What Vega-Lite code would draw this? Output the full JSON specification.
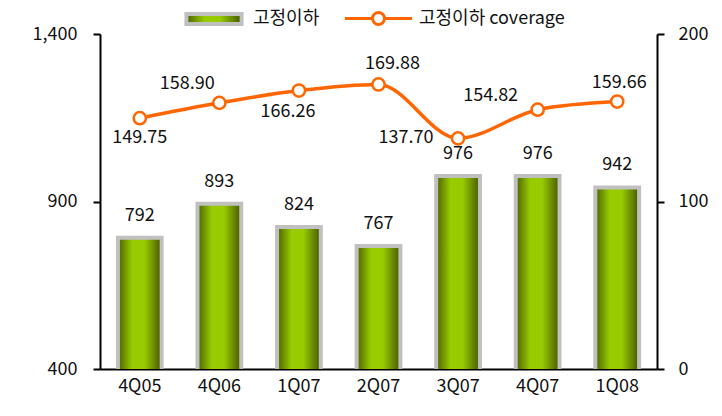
{
  "$schema": "https://vega.github.io/schema/vega-lite/v6.json",
  "autosize": {"type": "none"},
  "width": 557,
  "height": 335,
  "padding": {"left": 100, "top": 34, "right": 65, "bottom": 47},
  "background": "white",
  "config": {
    "view": {"stroke": null},
    "font": "Noto Sans CJK KR",
    "axis": {"grid": false, "domainColor": "#000", "domainWidth": 2, "tickColor": "#000", "tickWidth": 2, "labelFontSize": 18, "labelColor": "#111", "labelFont": "Noto Sans CJK KR", "title": null},
    "legend": {"labelFontSize": 18, "labelColor": "#111", "labelFont": "Noto Sans CJK KR"}
  },
  "data": {"values": [
    {"q": "4Q05", "npl": 792, "cov": 149.75},
    {"q": "4Q06", "npl": 893, "cov": 158.90},
    {"q": "1Q07", "npl": 824, "cov": 166.26},
    {"q": "2Q07", "npl": 767, "cov": 169.88},
    {"q": "3Q07", "npl": 976, "cov": 137.70},
    {"q": "4Q07", "npl": 976, "cov": 154.82},
    {"q": "1Q08", "npl": 942, "cov": 159.66}
  ]},
  "encoding": {
    "x": {"field": "q", "type": "nominal", "sort": null, "scale": {"paddingInner": 0.45, "paddingOuter": 0.225},
      "axis": {"labelAngle": 0, "bandPosition": 0, "tickSize": -8, "labelPadding": 25, "labelBaseline": "middle", "labelAlign": "center"}}
  },
  "layer": [
    {
      "layer": [
        {
          "mark": {"type": "bar", "strokeWidth": 4, "clip": true,
            "fill": {"gradient": "linear", "x1": 0, "y1": 0, "x2": 1, "y2": 0,
              "stops": [{"offset": 0, "color": "#4a6000"}, {"offset": 0.33, "color": "#99cc00"}, {"offset": 0.6, "color": "#99cc00"}, {"offset": 1, "color": "#445800"}]}},
          "encoding": {
            "y": {"field": "npl", "type": "quantitative", "scale": {"domain": [400, 1400], "zero": false},
              "axis": {"values": [400, 900, 1400], "format": ",d", "tickSize": 7, "labelPadding": 16}},
            "stroke": {"datum": "고정이하", "scale": {"range": ["#c0c0c0"]},
              "legend": {"title": null, "orient": "none", "legendX": 100, "legendY": -29,
                "symbolType": "M-2.3,-0.42H2.3V0.42H-2.3Z", "symbolSize": 576, "symbolStrokeWidth": 4,
                "labelOffset": 25, "padding": 0,
                "encode": {"symbols": {"update": {"fill": {"value": {"gradient": "linear", "x1": 0, "y1": 0, "x2": 1, "y2": 0, "stops": [{"offset": 0, "color": "#4a6000"}, {"offset": 0.5, "color": "#99cc00"}, {"offset": 1, "color": "#445800"}]}}, "opacity": {"value": 1}}}}}}
          }
        },
        {
          "mark": {"type": "text", "dy": -22, "fontSize": 18, "color": "#111", "baseline": "middle"},
          "encoding": {
            "y": {"field": "npl", "type": "quantitative"},
            "text": {"field": "npl", "type": "quantitative", "format": "d"}
          }
        }
      ]
    },
    {
      "layer": [
        {
          "mark": {"type": "line", "interpolate": "monotone", "strokeWidth": 3.5,
            "point": {"filled": false, "fill": "white", "stroke": "#ff6600", "strokeWidth": 2.5, "size": 150, "opacity": 1}},
          "encoding": {
            "y": {"field": "cov", "type": "quantitative", "scale": {"domain": [0, 200]},
              "axis": {"orient": "right", "values": [0, 100, 200], "tickSize": 7, "labelPadding": 14}},
            "stroke": {"datum": "고정이하 coverage", "scale": {"range": ["#ff6600"]},
              "legend": {"title": null, "orient": "none", "legendX": 265, "legendY": -29,
                "symbolType": "M-2.8,0H-0.5M0.5,0H2.8M0.5,0A0.5,0.5 0 1 1 -0.5,0A0.5,0.5 0 1 1 0.5,0",
                "symbolSize": 576, "symbolStrokeWidth": 3, "labelOffset": 27, "padding": 0,
                "encode": {"symbols": {"update": {"fill": {"value": "white"}, "opacity": {"value": 1}}}}}}
          }
        },
        {
          "transform": [{"filter": {"field": "q", "equal": "4Q05"}}],
          "mark": {"type": "text", "dy": 20, "dx": 0, "fontSize": 18, "color": "#111", "baseline": "middle"},
          "encoding": {"y": {"field": "cov", "type": "quantitative"}, "text": {"field": "cov", "type": "quantitative", "format": ".2f"}}
        },
        {
          "transform": [{"filter": {"field": "q", "equal": "1Q07"}}],
          "mark": {"type": "text", "dy": 21, "dx": -11, "fontSize": 18, "color": "#111", "baseline": "middle"},
          "encoding": {"y": {"field": "cov", "type": "quantitative"}, "text": {"field": "cov", "type": "quantitative", "format": ".2f"}}
        },
        {
          "transform": [{"filter": {"field": "q", "equal": "4Q06"}}],
          "mark": {"type": "text", "dy": -19, "dx": -32, "fontSize": 18, "color": "#111", "baseline": "middle"},
          "encoding": {"y": {"field": "cov", "type": "quantitative"}, "text": {"field": "cov", "type": "quantitative", "format": ".2f"}}
        },
        {
          "transform": [{"filter": {"field": "q", "equal": "2Q07"}}],
          "mark": {"type": "text", "dy": -20, "dx": 14, "fontSize": 18, "color": "#111", "baseline": "middle"},
          "encoding": {"y": {"field": "cov", "type": "quantitative"}, "text": {"field": "cov", "type": "quantitative", "format": ".2f"}}
        },
        {
          "transform": [{"filter": {"field": "q", "equal": "3Q07"}}],
          "mark": {"type": "text", "dy": 0, "dx": -52, "fontSize": 18, "color": "#111", "baseline": "middle"},
          "encoding": {"y": {"field": "cov", "type": "quantitative"}, "text": {"field": "cov", "type": "quantitative", "format": ".2f"}}
        },
        {
          "transform": [{"filter": {"field": "q", "equal": "4Q07"}}],
          "mark": {"type": "text", "dy": -14, "dx": -47, "fontSize": 18, "color": "#111", "baseline": "middle"},
          "encoding": {"y": {"field": "cov", "type": "quantitative"}, "text": {"field": "cov", "type": "quantitative", "format": ".2f"}}
        },
        {
          "transform": [{"filter": {"field": "q", "equal": "1Q08"}}],
          "mark": {"type": "text", "dy": -19, "dx": 2, "fontSize": 18, "color": "#111", "baseline": "middle"},
          "encoding": {"y": {"field": "cov", "type": "quantitative"}, "text": {"field": "cov", "type": "quantitative", "format": ".2f"}}
        }
      ]
    }
  ],
  "resolve": {"scale": {"y": "independent", "stroke": "independent"}}
}
